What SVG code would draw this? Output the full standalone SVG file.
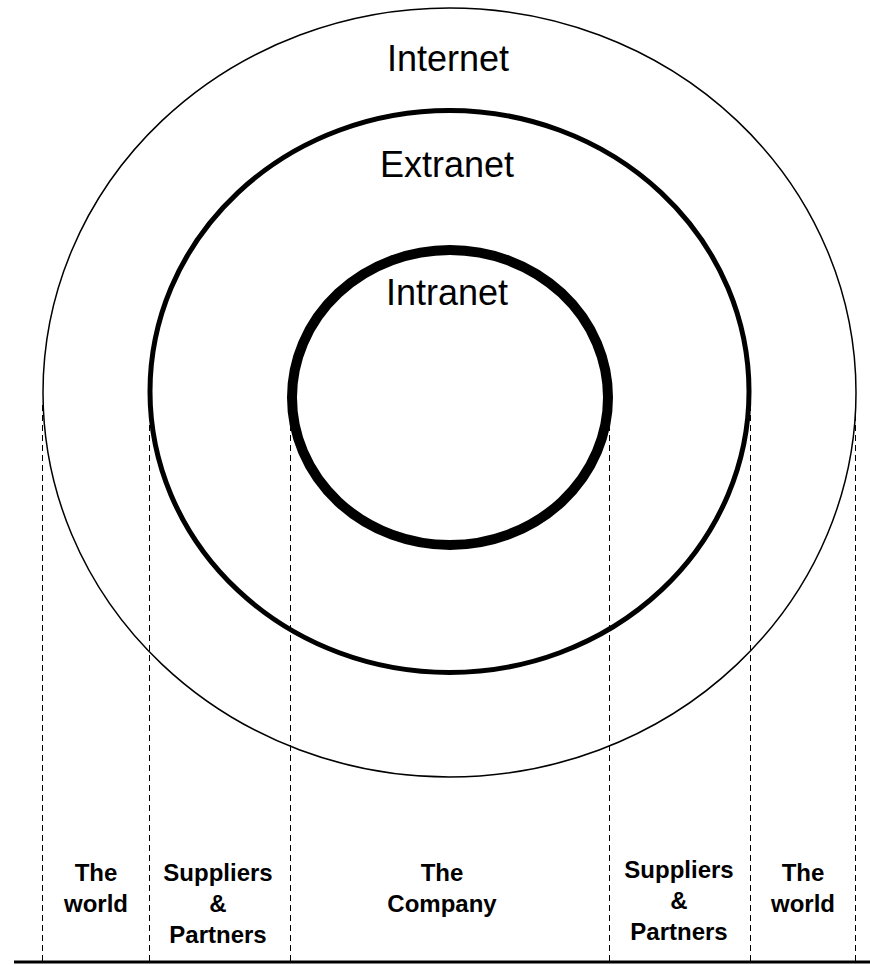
<svg xmlns="http://www.w3.org/2000/svg" width="870" height="965" viewBox="0 0 870 965">
<style>
.ring{fill:none;stroke:#000}
.title{font-family:"Liberation Sans",Arial,sans-serif;font-size:36px;text-anchor:middle;fill:#000}
.lbl{font-family:"Liberation Sans",Arial,sans-serif;font-size:24px;font-weight:bold;text-anchor:middle;fill:#000}
.dash{stroke:#000;stroke-width:1;stroke-dasharray:6 4;fill:none}
</style>
<rect width="870" height="965" fill="#fff"/>
<g id="connectors">
<line class="dash" x1="42.5" y1="405" x2="42.5" y2="962"/>
<line class="dash" x1="149.5" y1="405" x2="149.5" y2="962"/>
<line class="dash" x1="290.5" y1="405" x2="290.5" y2="962"/>
<line class="dash" x1="609.5" y1="405" x2="609.5" y2="962"/>
<line class="dash" x1="750.5" y1="405" x2="750.5" y2="962"/>
<line class="dash" x1="855.5" y1="405" x2="855.5" y2="962"/>
</g>
<g id="internet">
<ellipse class="ring" cx="449.5" cy="392.5" rx="406.5" ry="384.5" stroke-width="1.5"/>
<text class="title" x="448" y="71">Internet</text>
</g>
<g id="extranet">
<ellipse class="ring" cx="449.5" cy="391.5" rx="299.5" ry="281" stroke-width="5"/>
<text class="title" x="447" y="177">Extranet</text>
</g>
<g id="intranet">
<ellipse class="ring" cx="450" cy="397.5" rx="158" ry="147.5" stroke-width="10"/>
<text class="title" x="447" y="305">Intranet</text>
</g>
<g id="baseline">
<line x1="14" y1="962" x2="870" y2="962" stroke="#000" stroke-width="3"/>
</g>
<g id="world-left">
<text class="lbl" x="96" y="881">The</text>
<text class="lbl" x="96" y="912">world</text>
</g>
<g id="suppliers-left">
<text class="lbl" x="218" y="881">Suppliers</text>
<text class="lbl" x="218" y="912">&amp;</text>
<text class="lbl" x="218" y="943">Partners</text>
</g>
<g id="company">
<text class="lbl" x="442" y="881">The</text>
<text class="lbl" x="442" y="912">Company</text>
</g>
<g id="suppliers-right">
<text class="lbl" x="679" y="878">Suppliers</text>
<text class="lbl" x="679" y="909">&amp;</text>
<text class="lbl" x="679" y="940">Partners</text>
</g>
<g id="world-right">
<text class="lbl" x="803" y="881">The</text>
<text class="lbl" x="803" y="912">world</text>
</g>
</svg>
